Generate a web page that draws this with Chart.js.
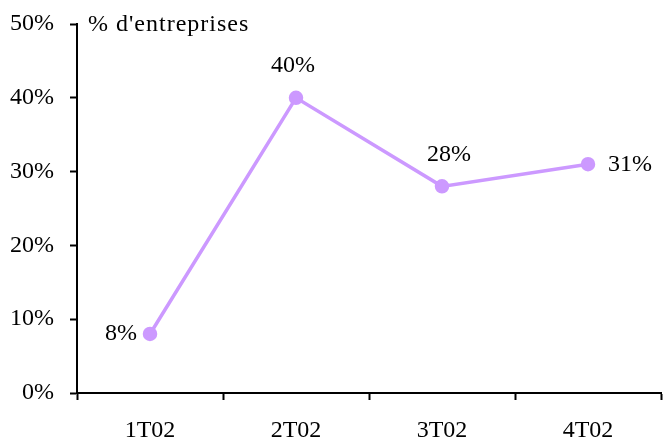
<!DOCTYPE html>
<html>
<head>
<meta charset="utf-8">
<script src="https://cdn.jsdelivr.net/npm/chart.js@4"></script>
<style>
  html, body { margin: 0; padding: 0; background: #fff; }
  #wrap { width: 663px; height: 441px; }
</style>
</head>
<body>
<div id="wrap"><canvas id="chart" width="663" height="441"></canvas></div>
<script>
const categories = ['1T02', '2T02', '3T02', '4T02'];
const valeurs = [8, 40, 28, 31];
const labelSide = ['left', 'top', 'top', 'right'];
const yTicks = [0, 10, 20, 30, 40, 50];
const unitLabel = "% d'entreprises";

const serif = '"Liberation Serif", "Times New Roman", serif';
const fontSize = 24;

// etiquettes de valeur + titre de l'axe
const labelsPlugin = {
  id: 'valueLabels',
  afterDatasetsDraw(chart) {
    const ctx = chart.ctx;
    const meta = chart.getDatasetMeta(0);
    ctx.save();
    ctx.fillStyle = '#000';
    ctx.font = fontSize + 'px ' + serif;
    ctx.textBaseline = 'middle';
    meta.data.forEach((pt, i) => {
      const txt = valeurs[i] + '%';
      const side = labelSide[i];
      if (side === 'left') {
        ctx.textAlign = 'right';
        ctx.fillText(txt, pt.x - 13, pt.y);
      } else if (side === 'right') {
        ctx.textAlign = 'left';
        ctx.fillText(txt, pt.x + 20, pt.y);
      } else {
        ctx.textAlign = 'center';
        ctx.fillText(txt, pt.x + (i === 2 ? 7 : -3), pt.y - 32);
      }
    });
    ctx.textAlign = 'left';
    ctx.letterSpacing = '1px';
    ctx.fillText(unitLabel, chart.chartArea.left + 11, chart.chartArea.top + 1);
    ctx.restore();
  }
};

new Chart(document.getElementById('chart'), {
  type: 'line',
  data: {
    labels: categories,
    datasets: [{
      data: valeurs,
      borderColor: '#cc99ff',
      backgroundColor: '#cc99ff',
      borderWidth: 3.5,
      pointRadius: 5.5,
      pointHoverRadius: 5.5,
      tension: 0
    }]
  },
  options: {
    responsive: false,
    animation: false,
    layout: { autoPadding: false, padding: { top: 24, right: 2, left: 0, bottom: 0 } },
    plugins: {
      legend: { display: false },
      tooltip: { enabled: false }
    },
    scales: {
      x: {
        offset: true,
        grid: {
          offset: true,
          drawOnChartArea: false,
          drawTicks: true,
          tickLength: 7,
          tickWidth: 2,
          tickColor: '#000'
        },
        border: { color: '#000', width: 2 },
        ticks: {
          color: '#000',
          padding: 16,
          maxRotation: 0,
          font: { family: serif, size: fontSize }
        },
        afterFit: s => {
          s.height = 48;
          s.paddingLeft = 0;
          s.paddingRight = 0;
        }
      },
      y: {
        min: 0,
        max: 50,
        afterBuildTicks: s => { s.ticks = yTicks.map(v => ({ value: v })); },
        grid: {
          drawOnChartArea: false,
          drawTicks: true,
          tickLength: 7,
          tickWidth: 2,
          tickColor: '#000'
        },
        border: { color: '#000', width: 2 },
        ticks: {
          color: '#000',
          padding: 16,
          font: { family: serif, size: fontSize },
          callback: v => v + '%'
        },
        afterFit: s => {
          s.width = 77;
          s.paddingTop = 0;
          s.paddingBottom = 0;
        }
      }
    }
  },
  plugins: [labelsPlugin]
});
</script>
</body>
</html>
